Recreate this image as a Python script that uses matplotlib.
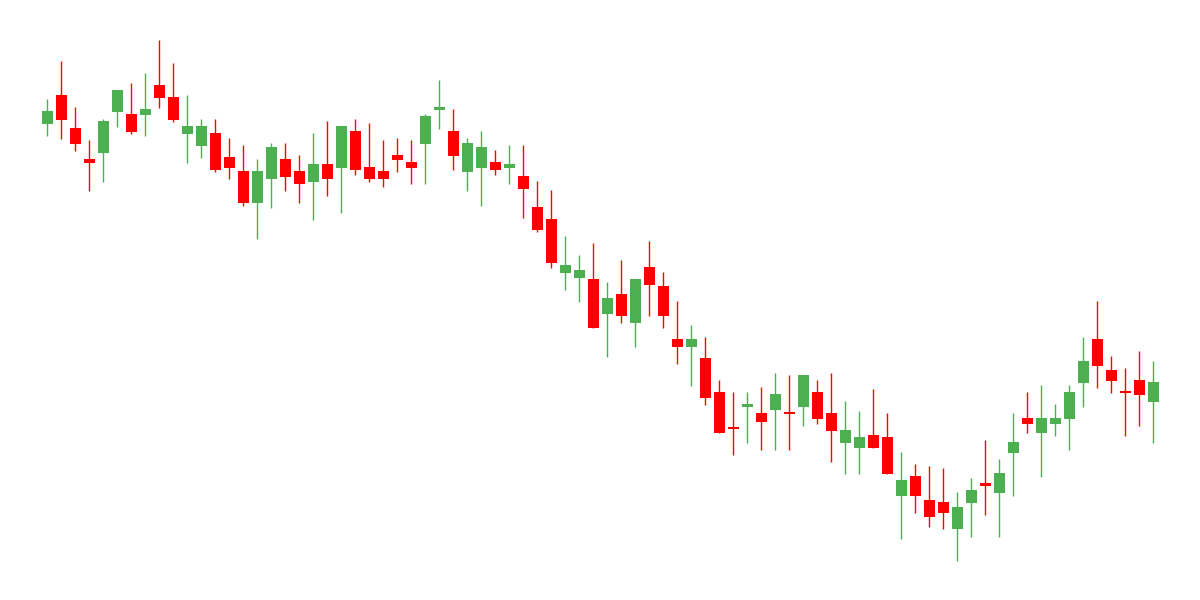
import matplotlib
matplotlib.use("Agg")
import matplotlib.pyplot as plt
import numpy as np

opens = [476.3, 505, 472, 441, 447.3, 488.3, 486, 485.3, 515, 503,
         466.3, 454.3, 467, 443, 429, 397.3, 421.3, 441, 429, 418.3,
         436, 432.3, 469, 433, 429, 445, 438, 456.3, 490.3, 469,
         428.3, 432.3, 438, 432.3, 424, 393, 381, 327.3, 322.3, 321,
         286.3, 306, 277.3, 333, 314, 261, 253.3, 242, 208, 172,
         193.3, 187, 190.3, 187, 193.3, 208, 187, 157.3, 152.3, 165,
         163, 104.3, 124, 100, 98, 71.3, 97.3, 117, 107.3, 147.3,
         182, 167.3, 176.3, 181.3, 217.3, 261, 230, 208, 220, 198.3]
highs = [501, 539, 493, 460, 481, 510, 517, 527, 560, 537,
         505, 481, 481, 462, 455, 441, 457, 457, 445, 467,
         479, 474, 481, 477, 460, 462, 460, 486, 520, 491,
         462, 469, 450, 455, 455, 419, 410, 364, 345, 357,
         318, 340, 321, 359, 328, 299, 275, 263, 220, 208,
         208, 213, 227, 225, 225, 220, 227, 199, 189, 211,
         187, 148, 136, 134, 132, 108, 122, 160, 141, 187,
         208, 215, 196, 215, 263, 299, 244, 232, 249, 239]
lows = [464, 461.3, 449.3, 409.3, 418.3, 473.3, 466.3, 464, 492.3, 478.3,
        437.3, 442.3, 428.3, 421.3, 394.3, 361.3, 392.3, 409.3, 397.3, 380.3,
        404.3, 387.3, 425.3, 418.3, 413.3, 428.3, 416.3, 416.3, 471.3, 430.3,
        409.3, 394.3, 425.3, 416.3, 382.3, 368.3, 332.3, 310.3, 298.3, 272.3,
        243.3, 277.3, 253.3, 284.3, 272.3, 236.3, 214.3, 195.3, 167.3, 145.3,
        157.3, 150.3, 150.3, 150.3, 174.3, 176.3, 138.3, 126.3, 126.3, 152.3,
        126.3, 61.3, 87.3, 73.3, 71.3, 39.3, 63.3, 85.3, 63.3, 104.3,
        167.3, 123.3, 164.3, 150.3, 193.3, 212.3, 207.3, 164.3, 174.3, 157.3]
closes = [489, 480.3, 456.3, 437.3, 479, 510, 468.3, 491, 502.3, 480.3,
          474, 474, 430.3, 432.3, 397.3, 429, 453, 423.3, 416.3, 436,
          421.3, 474, 430.3, 421.3, 421.3, 440.3, 432.3, 484, 493, 444.3,
          457, 453, 430.3, 436, 411.3, 370.3, 337.3, 335, 330, 272.3,
          302, 284.3, 321, 315.3, 284.3, 253.3, 261, 202.3, 167.3, 171.4,
          196, 178.3, 206, 186.4, 225, 181.3, 169.3, 170, 163, 152.3,
          126.3, 120, 104.3, 83.3, 87.3, 93, 110, 114.3, 127, 158,
          176.3, 182, 182, 208, 239, 234.3, 219.3, 207.4, 205.3, 218]

UP = "#4CAF50"
DOWN = "#FF0000"

fig = plt.figure(figsize=(12, 6), dpi=100)
ax = fig.add_axes([0, 0, 1, 1])
x = np.arange(len(opens))
o = np.array(opens); h = np.array(highs); l = np.array(lows); c = np.array(closes)
colors = [UP if cc > oo else DOWN for oo, cc in zip(o, c)]
ax.vlines(x, l, h, colors=colors, linewidth=1.0, zorder=1)
bottoms = np.minimum(o, c)
heights = np.maximum(np.abs(c - o), 1.3)
ax.bar(x, heights, bottom=bottoms, width=0.79, color=colors, linewidth=0, zorder=2)

ax.set_xlim(-47.3 / 14, (1200 - 47.3) / 14)
ax.set_ylim(0, 600)
ax.axis("off")
fig.savefig("out.png", dpi=100)
